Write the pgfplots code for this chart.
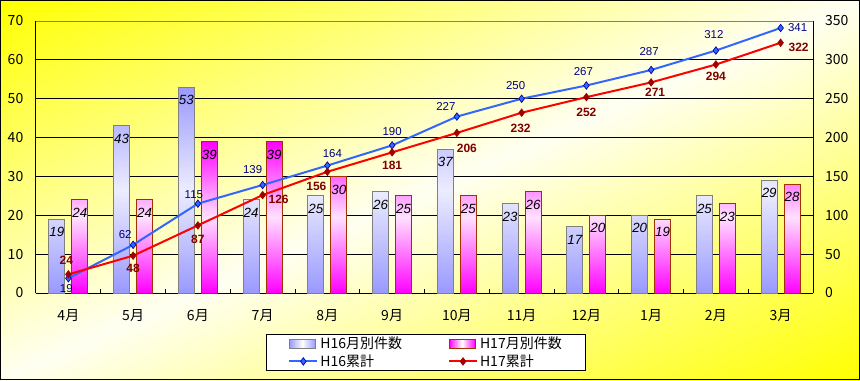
\documentclass[border=0pt]{standalone}
\usepackage{fontspec}
\setmainfont{Noto Sans CJK JP}
\newfontfamily\lat{Liberation Sans}
\usepackage{pgfplots}
\pgfplotsset{compat=1.18}
\usepackage{pgfplotstable}

\definecolor{barA}{RGB}{153,153,255}
\definecolor{barAedge}{RGB}{128,128,128}
\definecolor{barB}{RGB}{255,0,255}
\definecolor{barBedge}{RGB}{160,50,0}
\definecolor{lineA}{RGB}{51,102,255}
\definecolor{markA}{RGB}{0,0,160}
\definecolor{labA}{RGB}{0,0,128}
\definecolor{lineB}{RGB}{255,0,0}
\definecolor{markB}{RGB}{160,0,0}
\definecolor{labB}{RGB}{128,0,0}
\definecolor{bgY}{RGB}{255,255,0}
\definecolor{bgW}{RGB}{255,255,242}
\colorlet{barAmid}{barA!18!white}
\colorlet{barBmid}{barB!12!white}

\pgfplotsset{
  linelegend/.style={legend image code/.code={\draw[mark repeat=2,mark phase=2,##1] plot coordinates {(0pt,0pt) (10.5pt,0pt) (21pt,0pt)};}},
}

\pgfplotstableread{
x a b
0 19 24
1 43 24
2 53 39
3 24 39
4 25 30
5 26 25
6 37 25
7 23 26
8 17 20
9 20 19
10 25 23
11 29 28
}\monthly

\begin{document}
\begin{tikzpicture}
\path[use as bounding box] (0,0) rectangle (645pt,285pt);
\begin{scope}
\clip (0,0) rectangle (645pt,285pt);
\begin{scope}[transform canvas={shift={(322.5pt,142.5pt)}, rotate=23.8}]
\shade[top color=bgY, bottom color=bgY, middle color=bgW] (-353pt,-261pt) rectangle (353pt,261pt);
\end{scope}
\end{scope}
\draw[black, line width=1pt] (0.5pt,0.5pt) rectangle (644.5pt,284.5pt);

\begin{axis}[
  width=582.75pt, height=204pt, scale only axis,
  at={(27pt,65.25pt)}, anchor=south west,
  xmin=-0.5, xmax=11.5, ymin=0, ymax=70,
  xtick={0,...,11},
  xticklabels={4月,5月,6月,7月,8月,9月,10月,11月,12月,1月,2月,3月},
  minor xtick={0.5,1.5,...,10.5},
  ytick={0,10,...,70},
  major tick length=0pt, minor tick length=3pt, tick align=inside,
  minor tick style={black, line width=0.75pt},
  ymajorgrids, grid style={black, line width=0.75pt},
  axis x line*=bottom, axis y line*=left,
  axis line style={black, line width=0.75pt},
  yticklabel style={font=\fontsize{10.5}{12}\selectfont, xshift=-6pt},
  xticklabel style={font=\fontsize{10.5}{12}\selectfont, yshift=-9pt},
  /pgf/number format/assume math mode=true,
  extra description/.code={\draw[gray, line width=0.75pt] (axis description cs:0,1) -- (axis description cs:1,1);},
  nodes near coords,
  every node near coord/.append style={anchor=center, yshift=-9.75pt, font=\lat\itshape\fontsize{10}{12}\selectfont, text=black},
]
\addplot[ybar, bar width=12pt, bar shift=-8.6pt, draw=barAedge, line width=0.75pt,
  top color=barA, bottom color=barA, middle color=barAmid,
  every node near coord/.append style={xshift=-8.6pt}] table[x=x,y=a] {\monthly};
\addplot[ybar, bar width=12pt, bar shift=8.6pt, draw=barBedge, line width=0.75pt,
  top color=barB, bottom color=barB, middle color=barBmid,
  every node near coord/.append style={xshift=8.6pt}] table[x=x,y=b] {\monthly};
\end{axis}

\begin{axis}[
  width=582.75pt, height=204pt, scale only axis,
  at={(27pt,65.25pt)}, anchor=south west,
  xmin=-0.5, xmax=11.5, ymin=0, ymax=350,
  ytick={0,50,...,350},
  major tick length=0pt,
  axis x line=none, axis y line*=right,
  axis line style={black, line width=0.75pt},
  yticklabel style={font=\fontsize{10.5}{12}\selectfont, xshift=5.5pt},
  /pgf/number format/assume math mode=true,
  legend columns=2, legend cell align=left,
  legend style={at={(0.502,-0.219)}, anchor=center, draw=black, line width=0.75pt, fill=white,
    font=\fontsize{10.5}{12}\selectfont, inner xsep=16.25pt, inner ysep=0.5pt, row sep=0pt,
    nodes={inner sep=1.5pt},
    /tikz/every even column/.append style={column sep=33pt}},
]
\addlegendimage{legend image code/.code={\draw[draw=barAedge, line width=0.75pt, left color=barA, right color=barA, middle color=white] (0pt,-3.4pt) rectangle (19.5pt,3.4pt);}}
\addlegendentry{H16月別件数}
\addlegendimage{legend image code/.code={\draw[draw=barBedge, line width=0.75pt, left color=barB, right color=barB, middle color=white] (0pt,-3.4pt) rectangle (19.5pt,3.4pt);}}
\addlegendentry{H17月別件数}
\addlegendimage{linelegend, color=lineA, line width=1.5pt, mark=diamond*, mark size=2.8pt,
  mark options={fill=lineA, draw=markA, line width=0.5pt}}
\addlegendentry{H16累計}
\addlegendimage{linelegend, color=lineB, line width=1.5pt, mark=diamond*, mark size=2.8pt,
  mark options={fill=markB, draw=markB, line width=0.5pt}}
\addlegendentry{H17累計}

\addplot[forget plot, color=lineA, line width=1.5pt, mark=diamond*, mark size=2.8pt,
  mark options={fill=lineA, draw=markA, line width=0.5pt},
  point meta=explicit symbolic, nodes near coords,
  visualization depends on={value \thisrow{dx}\as\ldx},
  visualization depends on={value \thisrow{uy}\as\luy},
  every node near coord/.append style={anchor=center, xshift=\ldx*0.75pt, yshift=\luy*0.75pt,
    font=\lat\fontsize{8.6}{10}\selectfont, text=labA}]
  table[x=x,y=c,meta=c] {
x c dx uy
0 19 -2 -10
1 62 -8 10
2 115 -4 9
3 139 -10 15
4 164 5 12
5 190 0 14
6 227 -11 10
7 250 -6 13
8 267 -3 14
9 287 -2 18
10 312 -2 16
11 341 17 0
};
\addplot[forget plot, color=lineB, line width=1.5pt, mark=diamond*, mark size=2.8pt,
  mark options={fill=markB, draw=markB, line width=0.5pt},
  point meta=explicit symbolic, nodes near coords,
  visualization depends on={value \thisrow{dx}\as\ldx},
  visualization depends on={value \thisrow{uy}\as\luy},
  every node near coord/.append style={anchor=center, xshift=\ldx*0.75pt, yshift=\luy*0.75pt,
    font=\lat\bfseries\fontsize{9}{10}\selectfont, text=labB}]
  table[x=x,y=c,meta=c] {
x c dx uy
0 24 -2 14
1 48 0 -13
2 87 0 -14
3 126 16 -4
4 156 -11 -15
5 181 0 -13
6 206 10 -15
7 232 -1 -16
8 252 0 -15
9 271 4 -10
10 294 0 -12
11 322 18 -5
};
\end{axis}
\end{tikzpicture}
\end{document}
